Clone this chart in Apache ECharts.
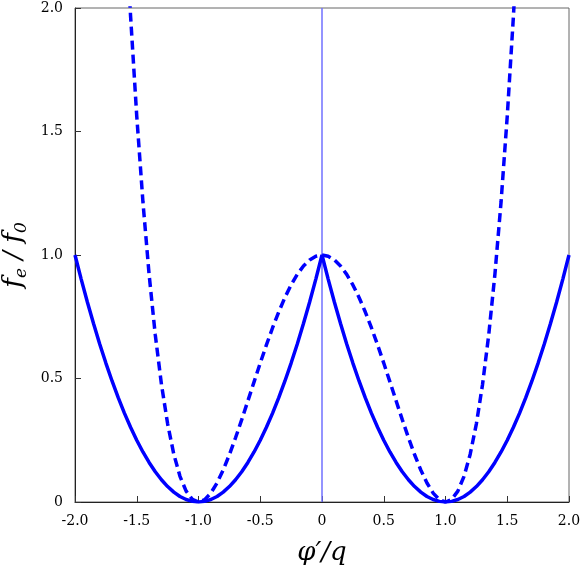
<!DOCTYPE html>
<html>
<head>
    <meta charset="UTF-8">
    <script src="https://cdn.jsdelivr.net/npm/echarts@6/dist/echarts.min.js"></script>
    <style>
        html, body { margin: 0; padding: 0; background: #fff; }
    </style>
</head>
<body>
<div id="chart" style="width: 581px;height:568px;"></div>
<script type="text/javascript">
    // x values (phi'/q)
    var xs = [-2.00,-1.95,-1.90,-1.85,-1.80,-1.75,-1.70,-1.65,-1.60,-1.55,-1.50,-1.45,-1.40,-1.35,-1.30,-1.25,-1.20,-1.15,-1.10,-1.05,
              -1.00,-0.95,-0.90,-0.85,-0.80,-0.75,-0.70,-0.65,-0.60,-0.55,-0.50,-0.45,-0.40,-0.35,-0.30,-0.25,-0.20,-0.15,-0.10,-0.05,
              0.00,0.05,0.10,0.15,0.20,0.25,0.30,0.35,0.40,0.45,0.50,0.55,0.60,0.65,0.70,0.75,0.80,0.85,0.90,0.95,
              1.00,1.05,1.10,1.15,1.20,1.25,1.30,1.35,1.40,1.45,1.50,1.55,1.60,1.65,1.70,1.75,1.80,1.85,1.90,1.95,2.00];
    // solid curve f_e/f_0
    var solid = [1.0000,0.9025,0.8100,0.7225,0.6400,0.5625,0.4900,0.4225,0.3600,0.3025,0.2500,0.2025,0.1600,0.1225,0.0900,0.0625,0.0400,0.0225,0.0100,0.0025,
                 0.0000,0.0025,0.0100,0.0225,0.0400,0.0625,0.0900,0.1225,0.1600,0.2025,0.2500,0.3025,0.3600,0.4225,0.4900,0.5625,0.6400,0.7225,0.8100,0.9025,
                 1.0000,0.9025,0.8100,0.7225,0.6400,0.5625,0.4900,0.4225,0.3600,0.3025,0.2500,0.2025,0.1600,0.1225,0.0900,0.0625,0.0400,0.0225,0.0100,0.0025,
                 0.0000,0.0025,0.0100,0.0225,0.0400,0.0625,0.0900,0.1225,0.1600,0.2025,0.2500,0.3025,0.3600,0.4225,0.4900,0.5625,0.6400,0.7225,0.8100,0.9025,1.0000];
    // dashed curve (goes off the top beyond |x| ~ 1.55)
    var dashed = [null,null,null,null,null,null,null,null,2.4336,1.9670,1.5625,1.2155,0.9216,0.6765,0.4761,0.3164,0.1936,0.1040,0.0441,0.0105,
                  0.0000,0.0095,0.0361,0.0770,0.1296,0.1914,0.2601,0.3335,0.4096,0.4865,0.5625,0.6360,0.7056,0.7700,0.8281,0.8789,0.9216,0.9555,0.9801,0.9950,
                  1.0000,0.9950,0.9801,0.9555,0.9216,0.8789,0.8281,0.7700,0.7056,0.6360,0.5625,0.4865,0.4096,0.3335,0.2601,0.1914,0.1296,0.0770,0.0361,0.0095,
                  0.0000,0.0105,0.0441,0.1040,0.1936,0.3164,0.4761,0.6765,0.9216,1.2155,1.5625,1.9670,2.4336,null,null,null,null,null,null,null,null];
    // thin vertical marker at x = 0
    var vlineX = [0, 0];
    var vlineY = [0, 2];

    function pairs(a, b) {
        var out = [];
        for (var i = 0; i < a.length; i++) {
            out.push([a[i], b[i]]);
        }
        return out;
    }

    var serif = 'DejaVu Serif';
    var myChart = echarts.init(document.getElementById('chart'));
    var option = {
        animation: false,
        grid: {
            left: 75, right: 12, top: 8, bottom: 66,
            outerBoundsMode: 'none', containLabel: false,
            show: true, borderColor: '#666', borderWidth: 1, backgroundColor: 'transparent'
        },
        xAxis: {
            type: 'value',
            min: -2, max: 2, interval: 0.5,
            name: '{i|φ′/q}',
            nameLocation: 'middle',
            nameGap: 38,
            nameTextStyle: {
                rich: { i: { fontFamily: serif, fontStyle: 'italic', fontSize: 26, color: '#000' } }
            },
            axisLine: { onZero: false, lineStyle: { color: '#222', width: 1 } },
            axisTick: { inside: true, length: 6, lineStyle: { color: '#333' } },
            splitLine: { show: false },
            axisLabel: {
                fontFamily: serif, fontSize: 14, color: '#000', margin: 12,
                formatter: function (v) { return v === 0 ? '0' : v.toFixed(1); }
            }
        },
        yAxis: {
            type: 'value',
            min: 0, max: 2, interval: 0.5,
            name: '{i|f}{s|e}{i| / f}{s|0}',
            nameLocation: 'middle',
            nameGap: 44,
            nameTextStyle: {
                rich: {
                    i: { fontFamily: serif, fontStyle: 'italic', fontSize: 26, color: '#000' },
                    s: { fontFamily: serif, fontStyle: 'italic', fontSize: 17, color: '#000', padding: [14, 0, 0, 0] }
                }
            },
            axisLine: { onZero: false, lineStyle: { color: '#222', width: 1 } },
            axisTick: { inside: true, length: 6, lineStyle: { color: '#333' } },
            splitLine: { show: false },
            axisLabel: {
                fontFamily: serif, fontSize: 14, color: '#000', margin: 12,
                formatter: function (v) { return v === 0 ? '0' : v.toFixed(1); }
            }
        },
        series: [
            {
                type: 'line', data: pairs(vlineX, vlineY), symbol: 'none',
                lineStyle: { color: '#7070ff', width: 1.5 }, z: 1
            },
            {
                type: 'line', data: pairs(xs, solid), symbol: 'none', clip: true,
                lineStyle: { color: '#0000ff', width: 3.5 }, z: 3
            },
            {
                type: 'line', data: pairs(xs, dashed), symbol: 'none', clip: true,
                connectNulls: false,
                lineStyle: { color: '#0000ff', width: 3.5, type: [9, 5] }, z: 2
            }
        ]
    };
    myChart.setOption(option);
</script>
</body>
</html>
